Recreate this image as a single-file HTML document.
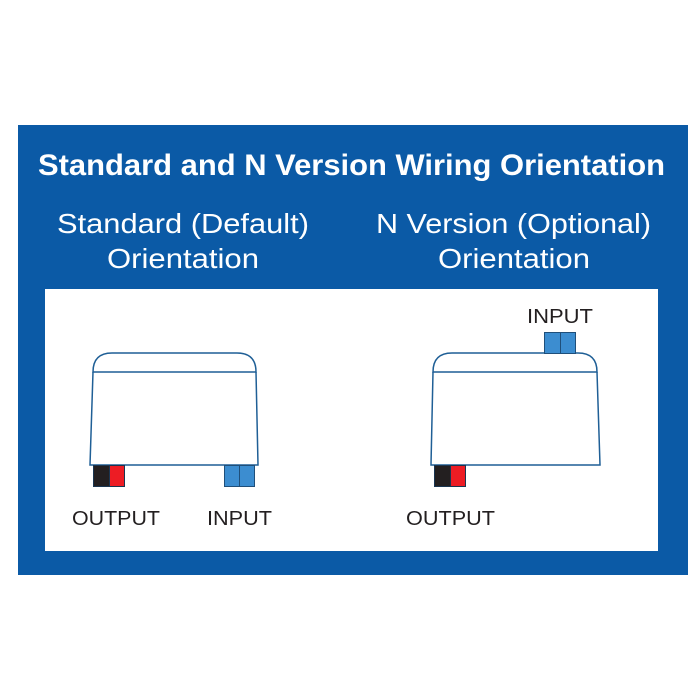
<!DOCTYPE html>
<html><head><meta charset="utf-8"><style>html,body{margin:0;padding:0;background:#fff}svg{display:block}</style></head>
<body>
<svg width="700" height="700" viewBox="0 0 700 700" xmlns="http://www.w3.org/2000/svg" font-family="Liberation Sans, sans-serif">
<rect x="0" y="0" width="700" height="700" fill="#fff"/>
<rect x="18" y="125" width="670" height="450" fill="#0b5aa6"/>
<rect x="45" y="289" width="613" height="262" fill="#fff"/>
<g fill="#fff">
<text x="38" y="175" font-size="30" font-weight="bold" textLength="627" lengthAdjust="spacingAndGlyphs">Standard and N Version Wiring Orientation</text>
<text x="57" y="233" font-size="28" textLength="252" lengthAdjust="spacingAndGlyphs">Standard (Default)</text>
<text x="107" y="268" font-size="28" textLength="152" lengthAdjust="spacingAndGlyphs">Orientation</text>
<text x="376" y="233" font-size="28" textLength="275" lengthAdjust="spacingAndGlyphs">N Version (Optional)</text>
<text x="438" y="268" font-size="28" textLength="152" lengthAdjust="spacingAndGlyphs">Orientation</text>
</g>
<g fill="none" stroke="#1f5f96" stroke-width="1.5">
<path d="M93 372 Q93 353 112 353 L237 353 Q256 353 256 372 Z"/>
<path d="M93 372 L90 465 L258 465 L256 372"/>
<path d="M433 372 Q433 353 452 353 L578 353 Q597 353 597 372 Z"/>
<path d="M433 372 L431 465 L600 465 L597 372"/>
</g>
<g stroke="#1a3550" stroke-width="1">
<rect x="93.5" y="465.5" width="16" height="21" fill="#231f20"/>
<rect x="109.5" y="465.5" width="15" height="21" fill="#ed1c24"/>
<rect x="434.5" y="465.5" width="16" height="21" fill="#231f20"/>
<rect x="450.5" y="465.5" width="15" height="21" fill="#ed1c24"/>
</g>
<g stroke="#1f4f7a" stroke-width="1" fill="#3c8dd0">
<rect x="224.5" y="465.5" width="15" height="21"/>
<rect x="239.5" y="465.5" width="15" height="21"/>
<rect x="544.5" y="332.5" width="16" height="21"/>
<rect x="560.5" y="332.5" width="15" height="21"/>
</g>
<g fill="#231f20" font-size="20">
<text x="72" y="525" textLength="88" lengthAdjust="spacingAndGlyphs">OUTPUT</text>
<text x="207" y="525" textLength="65" lengthAdjust="spacingAndGlyphs">INPUT</text>
<text x="406" y="525" textLength="89" lengthAdjust="spacingAndGlyphs">OUTPUT</text>
<text x="527" y="323" textLength="66" lengthAdjust="spacingAndGlyphs">INPUT</text>
</g>
</svg>
</body></html>
